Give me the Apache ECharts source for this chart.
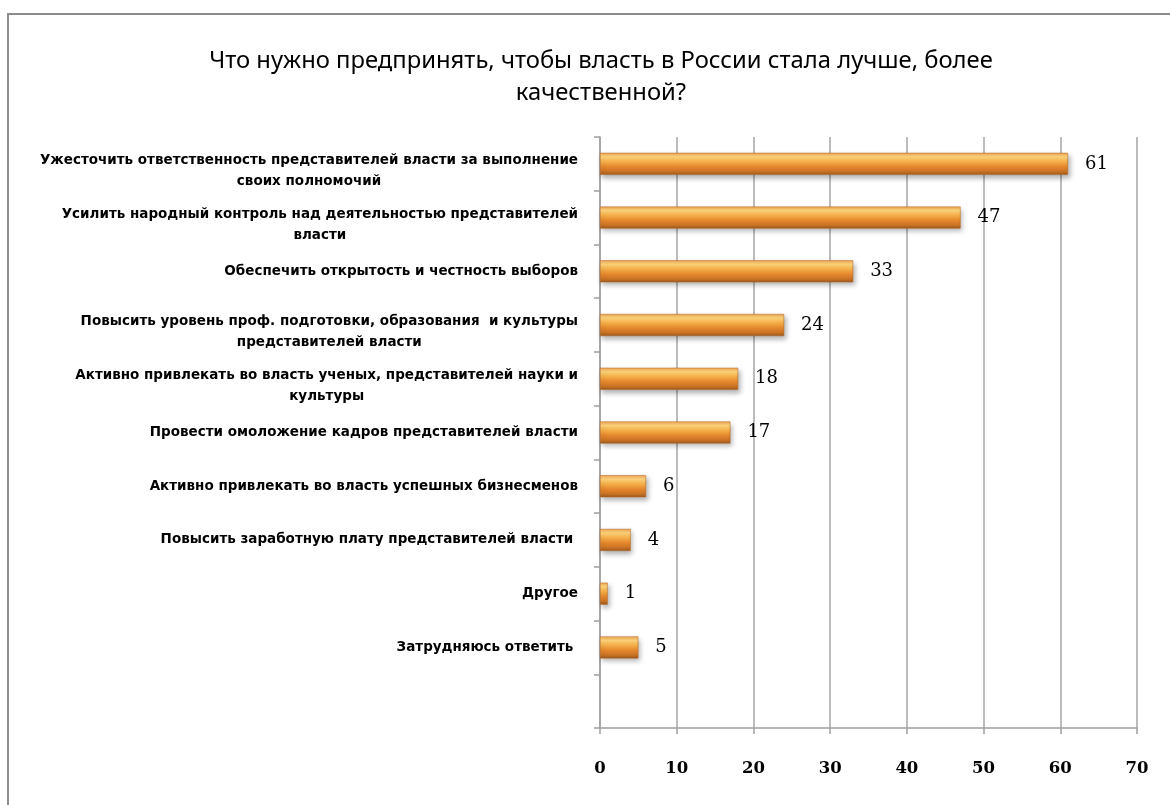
<!DOCTYPE html>
<html>
<head>
<meta charset="utf-8">
<script src="https://cdn.jsdelivr.net/npm/echarts@6/dist/echarts.min.js"></script>
<style>
  html, body { margin: 0; padding: 0; background: #fff; }
  #main { width: 1170px; height: 805px; }
</style>
</head>
<body>
<div id="main"></div>
<script>
// подписи категорий (последняя - пустая строка, как в оригинале)
var categories = [
  'Ужесточить ответственность представителей власти за выполнение\nсвоих полномочий',
  'Усилить народный контроль над деятельностью представителей\nвласти',
  'Обеспечить открытость и честность выборов',
  'Повысить уровень проф. подготовки, образования  и культуры\nпредставителей власти',
  'Активно привлекать во власть ученых, представителей науки и\nкультуры',
  'Провести омоложение кадров представителей власти',
  'Активно привлекать во власть успешных бизнесменов',
  'Повысить заработную плату представителей власти ',
  'Другое',
  'Затрудняюсь ответить ',
  ''
];
var values = [61, 47, 33, 24, 18, 17, 6, 4, 1, 5, '-'];
var xTicks = [0, 10, 20, 30, 40, 50, 60, 70];

var chart = echarts.init(document.getElementById('main'));

var barColor = new echarts.graphic.LinearGradient(0, 0, 0, 1, [
  { offset: 0, color: '#f0a455' },
  { offset: 0.18, color: '#fdd57c' },
  { offset: 0.38, color: '#f6b24c' },
  { offset: 0.62, color: '#e6892e' },
  { offset: 0.85, color: '#c97224' },
  { offset: 1, color: '#9a5820' }
]);

var labelFont = {
  fontFamily: 'DejaVu Sans',
  fontSize: 13.5,
  fontWeight: 'bold',
  color: '#000',
  lineHeight: 21,
  align: 'center'
};

var option = {
  animation: false,
  backgroundColor: '#fff',
  title: {
    text: 'Что нужно предпринять, чтобы власть в России стала лучше, более\nкачественной?',
    left: 596,
    top: 40,
    textAlign: 'center',
    textStyle: {
      fontFamily: 'Noto Sans',
      fontSize: 23.8,
      fontWeight: 'normal',
      color: '#000',
      lineHeight: 32
    }
  },
  graphic: [{
    type: 'rect',
    shape: { x: 8, y: 14, width: 1180, height: 820 },
    style: { fill: 'none', stroke: '#8c8c8c', lineWidth: 2 },
    silent: true
  }],
  grid: {
    left: 600,
    right: 33,
    top: 137,
    bottom: 77
  },
  xAxis: {
    type: 'value',
    min: 0,
    max: 70,
    interval: 10,
    axisLine: { show: true, lineStyle: { color: '#a0a0a0', width: 1.5 } },
    axisTick: { show: true, length: 6, lineStyle: { color: '#a0a0a0', width: 1.5 } },
    splitLine: { show: true, lineStyle: { color: '#a6a6a6', width: 1.5 } },
    axisLabel: {
      margin: 32,
      fontFamily: 'DejaVu Serif',
      fontSize: 16.5,
      fontWeight: 'bold',
      color: '#000',
      formatter: function (v) { return xTicks.indexOf(v) >= 0 ? String(v) : ''; }
    }
  },
  yAxis: {
    type: 'category',
    inverse: true,
    data: categories,
    axisLine: { show: true, lineStyle: { color: '#a0a0a0', width: 1.5 } },
    axisTick: { show: true, length: 6, lineStyle: { color: '#a0a0a0', width: 1.5 } },
    axisLabel: {
      margin: 22,
      interval: 0,
      lineHeight: 21,
      fontFamily: 'DejaVu Sans',
      fontSize: 13.5,
      fontWeight: 'bold',
      color: '#000',
      formatter: function (v) {
        var lines = v.split('\n');
        if (lines.length === 1) return '{s|' + v + '}';
        return '{g|}\n{s|' + lines[0] + '}\n{s|' + lines[1] + '}';
      },
      rich: {
        g: { fontSize: 6, lineHeight: 14, height: 14 },
        s: labelFont
      }
    }
  },
  series: [{
    type: 'bar',
    data: values,
    barWidth: 22,
    itemStyle: {
      color: barColor,
      borderColor: '#b5651d',
      borderWidth: 0.5,
      shadowColor: 'rgba(0,0,0,0.3)',
      shadowBlur: 5,
      shadowOffsetX: 2,
      shadowOffsetY: 3
    },
    label: {
      show: true,
      position: 'right',
      distance: 17,
      fontFamily: 'DejaVu Serif',
      fontSize: 18,
      color: '#000'
    }
  }]
};

chart.setOption(option);
</script>
</body>
</html>
